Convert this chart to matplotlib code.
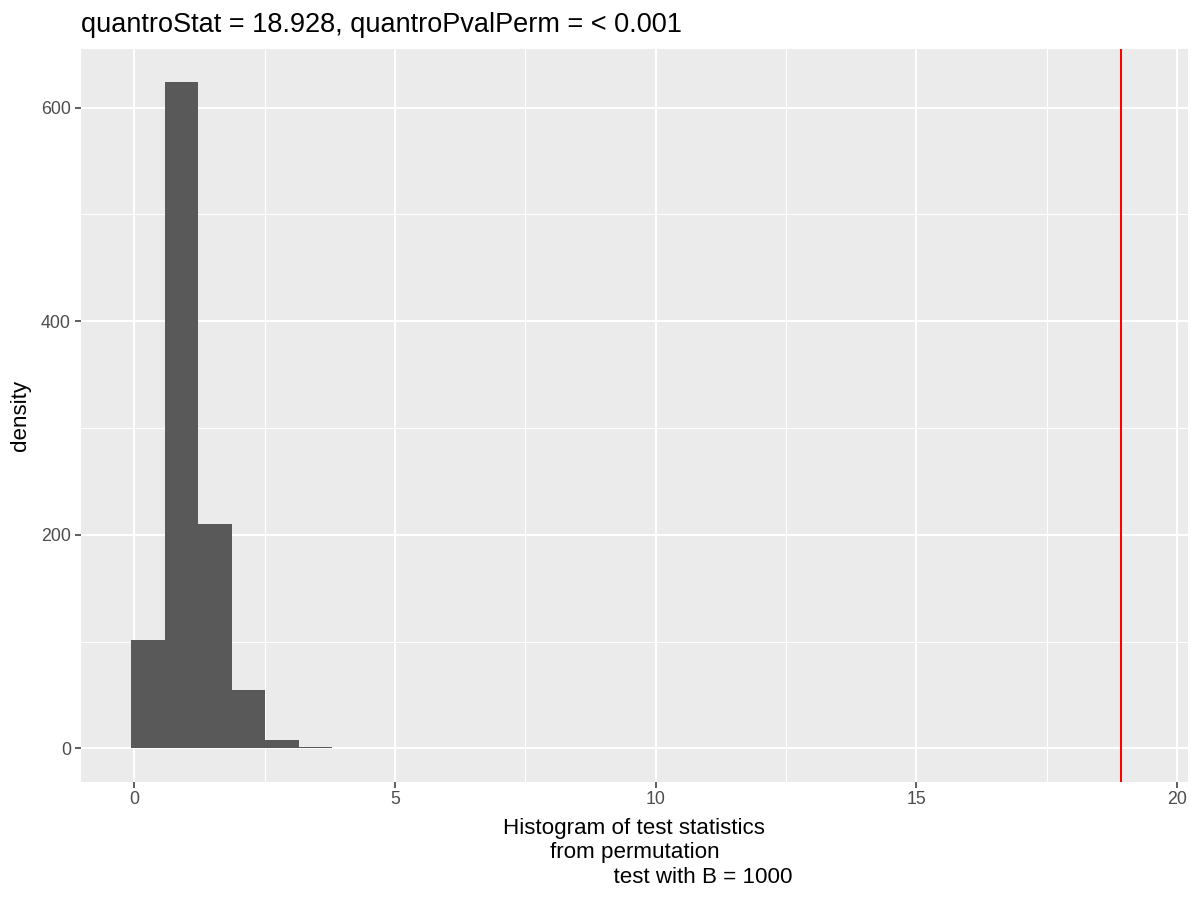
import numpy as np
import matplotlib
matplotlib.use("Agg")
import matplotlib.pyplot as plt
from matplotlib.ticker import MultipleLocator

# histogram of permutation test statistics
bin_edges = [-0.063, 0.581, 1.224, 1.868, 2.512, 3.155, 3.799]
density = [101.4, 624.0, 210.0, 54.6, 8.1, 1.2]
quantro_stat = 18.928
title = "quantroStat = 18.928, quantroPvalPerm = < 0.001"
xlab = ("Histogram of test statistics\n"
        "from permutation\n"
        + " " * 22 + "test with B = 1000")

plt.rcParams['font.family'] = ['Liberation Sans', 'DejaVu Sans']

fig = plt.figure(figsize=(12, 9), dpi=100)
ax = fig.add_axes([80.7 / 1200, 1 - 781.7 / 900,
                   (1188 - 80.7) / 1200, (781.7 - 49) / 900])

ax.set_facecolor('#EBEBEB')
for s in ax.spines.values():
    s.set_visible(False)

ax.xaxis.set_major_locator(MultipleLocator(5))
ax.xaxis.set_minor_locator(MultipleLocator(2.5))
ax.yaxis.set_major_locator(MultipleLocator(200))
ax.yaxis.set_minor_locator(MultipleLocator(100))
ax.grid(which='major', color='white', lw=1.5)
ax.grid(which='minor', color='white', lw=0.75)
ax.set_axisbelow(True)

edges = np.array(bin_edges)
ax.bar(edges[:-1], density, width=np.diff(edges), align='edge',
       color='#595959', edgecolor='none', zorder=2)
ax.axvline(quantro_stat, color='#FF0000', lw=1.45, zorder=3)

ax.set_xlim(-1.03, 20.21)
ax.set_ylim(-31.3, 655)

ax.tick_params(which='major', length=4, width=1.1, color='#333333',
               labelcolor='#4D4D4D', labelsize=12.8, pad=3)
ax.tick_params(which='minor', length=0)

ax.set_ylabel('density', fontsize=16.1, labelpad=7)
ax.set_xlabel(xlab, fontsize=16.1, linespacing=1.2, labelpad=7)

fig.text(80.7 / 1200, 1 - 31.7 / 900, title, fontsize=19.5,
         ha='left', va='baseline')

fig.savefig('out.png', dpi=100)
